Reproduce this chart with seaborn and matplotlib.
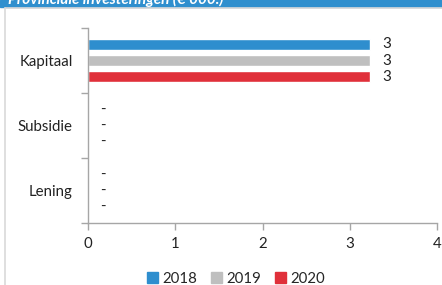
import pandas as pd
import matplotlib.pyplot as plt
from matplotlib.patches import Rectangle
from matplotlib.lines import Line2D
import seaborn as sns

# ── Data ─────────────────────────────────────────────────────────────────────
categories = ["Kapitaal", "Subsidie", "Lening"]
years = ["2018", "2019", "2020"]
values_2018 = [3.23, 0, 0]
values_2019 = [3.23, 0, 0]
values_2020 = [3.23, 0, 0]

COLORS = ["#2E8ECE", "#BFBFBF", "#E0303A"]
TITLE = "Provinciale investeringen (€ 000.)"

df = pd.DataFrame({
    "categorie": categories * 3,
    "jaar": [y for y in years for _ in categories],
    "waarde": values_2018 + values_2019 + values_2020,
})

# ── Style ────────────────────────────────────────────────────────────────────
sns.set_style("white")
plt.rcParams["font.family"] = ["Lato", "DejaVu Sans"]
FS = 10.8

fig = plt.figure(figsize=(4.42, 2.85), dpi=100)
ax = fig.add_axes([88 / 442, 1 - 223 / 285, 349 / 442, 195 / 285])

sns.barplot(data=df, x="waarde", y="categorie", hue="jaar", order=categories,
            hue_order=years, palette=COLORS, orient="h", width=0.74, gap=0.37,
            saturation=1, ax=ax, legend=False)

for cont in ax.containers:
    labels = ["-" if v == 0 else f"{v:.0f}" for v in cont.datavalues]
    ax.bar_label(cont, labels=labels, padding=9, fontsize=FS, color="#222222")

# ── Axes ─────────────────────────────────────────────────────────────────────
ax.set_xlim(0, 4)
ax.set_ylim(2.5, -0.5)
ax.set_xticks(range(5))
ax.set_yticks(range(len(categories)))
ax.set_yticks([-0.5, 0.5, 1.5, 2.5], minor=True)
ax.set_xlabel("")
ax.set_ylabel("")
ax.tick_params(axis="x", length=5, width=1, color="#A6A6A6", pad=5,
               labelsize=FS, labelcolor="#222222", bottom=True)
ax.tick_params(axis="y", which="major", length=0, pad=11, labelsize=FS,
               labelcolor="#222222")
ax.tick_params(axis="y", which="minor", length=5, width=1, color="#A6A6A6",
               left=True)
for side in ["top", "right"]:
    ax.spines[side].set_visible(False)
for side in ["left", "bottom"]:
    ax.spines[side].set_color("#A6A6A6")
    ax.spines[side].set_linewidth(1)

# ── Frame & title band ───────────────────────────────────────────────────────
fig.patches.append(Rectangle((0, 1 - 7 / 285), 1, 7 / 285,
                             transform=fig.transFigure, color="#2F8FCE"))
fig.text(8 / 442, 1 - 4 / 285, TITLE, color="white", fontsize=11,
         fontweight="bold", fontstyle="italic", va="baseline", ha="left")
fig.add_artist(Line2D([4.5 / 442, 4.5 / 442], [0, 1 - 8 / 285],
                      transform=fig.transFigure, color="#D9D9D9", lw=1.2))
fig.add_artist(Line2D([4.5 / 442, 1], [1 - 8 / 285, 1 - 8 / 285],
                      transform=fig.transFigure, color="#D9D9D9", lw=1.2))

# ── Legend ───────────────────────────────────────────────────────────────────
handles = [Rectangle((0, 0), 1, 1, color=c) for c in COLORS]
fig.legend(handles, years, loc="center", bbox_to_anchor=(236 / 442, 1 - 279 / 285),
           ncol=3, frameon=False, fontsize=FS, handlelength=0.75, handleheight=0.75,
           handletextpad=0.3, columnspacing=0.9, borderpad=0)

fig.savefig("out.png", dpi=100)
